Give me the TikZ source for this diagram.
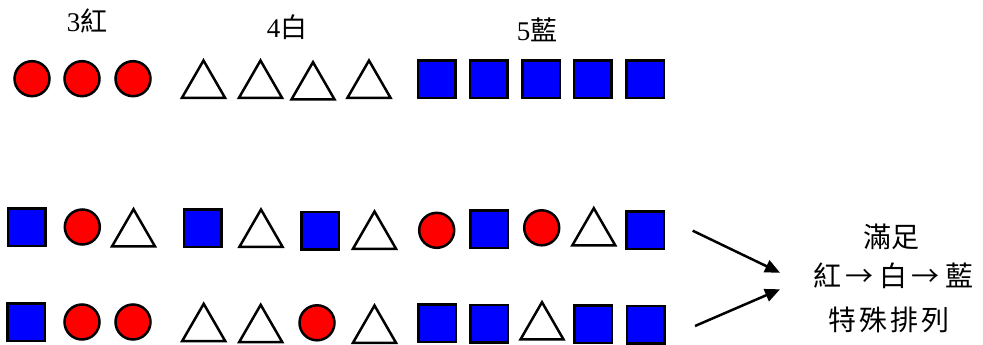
\documentclass[tikz,border=0pt]{standalone}
\usepackage{fontspec}
\setmainfont{Liberation Serif}
\newfontfamily\cjk{Noto Sans CJK TC}
\usetikzlibrary{shapes.geometric,arrows.meta}
\definecolor{redfill}{RGB}{255,0,0}
\definecolor{bluefill}{RGB}{0,0,255}
\tikzset{
  shp/.style={draw=black, line width=2.5pt, inner sep=0pt, outer sep=0pt},
  redball/.style={shp, circle, fill=redfill, minimum size=35pt},
  bluesq/.style={shp, rectangle, fill=bluefill, minimum size=37.5pt},
  whitetri/.style={shp, regular polygon, regular polygon sides=3, fill=white, minimum size=49.7pt},
  toplabel/.style={inner sep=0pt, font=\fontsize{27}{30}\selectfont},
  sidelabel/.style={inner sep=0pt, font=\cjk\fontsize{28}{30}\selectfont},
  bigarrow/.style={line width=2.5pt, -{Triangle[length=15pt,width=13pt]}}
}
\begin{document}
\begin{tikzpicture}[x=1pt,y=-1pt]
\useasboundingbox (0,0) rectangle (983,345);
% labels
\node[toplabel] (lr) at (87,21) {3{\cjk 紅}};
\node[toplabel] (lw) at (287,27) {4{\cjk 白}};
\node[toplabel] (lb) at (537,30) {5{\cjk 藍}};
% row 1
\node[redball] (a1) at (32,78.7) {};
\node[redball] (a2) at (82,78.7) {};
\node[redball] (a3) at (133,78.7) {};
\node[whitetri] (a4) at (203.5,85.35) {};
\node[whitetri] (a5) at (260.5,85.35) {};
\node[whitetri] (a6) at (313,87) {};
\node[whitetri] (a7) at (369,85.35) {};
\node[bluesq] (a8) at (436.7,79.3) {};
\node[bluesq] (a9) at (488.7,79.3) {};
\node[bluesq] (a10) at (541,79.3) {};
\node[bluesq] (a11) at (592.7,79.3) {};
\node[bluesq] (a12) at (645,79.3) {};
% row 2
\node[bluesq] (b1) at (26.7,227) {};
\node[redball] (b2) at (82.3,227) {};
\node[whitetri] (b3) at (133.5,234.05) {};
\node[bluesq] (b4) at (202.7,228) {};
\node[whitetri] (b5) at (261,234.35) {};
\node[bluesq] (b6) at (320,230.7) {};
\node[whitetri] (b7) at (374.5,236.35) {};
\node[redball] (b8) at (436.7,230.3) {};
\node[bluesq] (b9) at (489,229) {};
\node[redball] (b10) at (541.7,227.8) {};
\node[whitetri] (b11) at (593.8,233.05) {};
\node[bluesq] (b12) at (645.3,230) {};
% row 3
\node[bluesq] (c1) at (26.3,322) {};
\node[redball] (c2) at (82,322) {};
\node[redball] (c3) at (133,322) {};
\node[whitetri] (c4) at (203.7,328.65) {};
\node[whitetri] (c5) at (260.7,329.65) {};
\node[redball] (c6) at (317,322.8) {};
\node[whitetri] (c7) at (374.5,330.35) {};
\node[bluesq] (c8) at (437.3,323) {};
\node[bluesq] (c9) at (489.3,323.7) {};
\node[whitetri] (c10) at (542,327.05) {};
\node[bluesq] (c11) at (593.3,324) {};
\node[bluesq] (c12) at (645.7,324.5) {};
% side text
\node[sidelabel] (t1) at (891,237) {滿足};
\node[sidelabel] (t2) at (893,275.5) {紅\hspace{5pt}→\hspace{5pt}白\hspace{5pt}→\hspace{5pt}藍};
\node[sidelabel] (t3) at (889,320) {特\hspace{3pt}殊\hspace{3pt}排\hspace{3pt}列};
% arrows
\coordinate (s1) at (692.7,230.7);
\coordinate (e1) at (780,272.7);
\coordinate (s2) at (695,326);
\coordinate (e2) at (780,289.3);
\draw[bigarrow] (s1) -- (e1);
\draw[bigarrow] (s2) -- (e2);
\end{tikzpicture}
\end{document}
